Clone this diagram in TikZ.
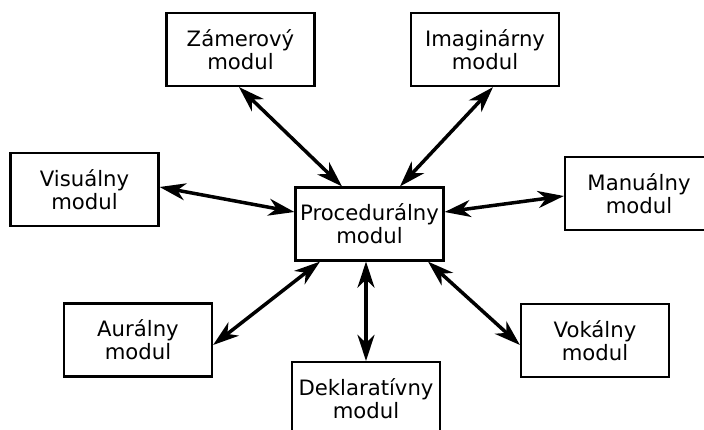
\documentclass[tikz,border=0pt]{standalone}
\usepackage{fontspec}
\setmainfont{DejaVu Sans}
\usetikzlibrary{arrows.meta}
\begin{document}
\begin{tikzpicture}[x=1pt,y=-1pt,
  modbox/.style={draw=black, line width=2.2pt, fill=white, minimum width=148pt,
    minimum height=73pt, inner sep=0pt, align=center,
    font=\fontsize{21.2}{23}\selectfont},
  link/.style={line width=3.5pt,
    {Stealth[length=26pt,width=17pt,inset=8pt]}-{Stealth[length=26pt,width=17pt,inset=8pt]}}]
  \clip (0,0) rectangle (704,430);
  \useasboundingbox (0,0) rectangle (704,430);

  % modules
  \node[modbox] (proc) at (369.5,224) {Procedurálny\\modul};
  \node[modbox] (zam)  at (240.5,49.5) {Zámerový\\modul};
  \node[modbox] (imag) at (485,49.5)   {Imaginárny\\modul};
  \node[modbox] (vis)  at (84.5,189.5) {Visuálny\\modul};
  \node[modbox] (man)  at (639,193.5)  {Manuálny\\modul};
  \node[modbox] (aur)  at (138,340)    {Aurálny\\modul};
  \node[modbox] (vok)  at (595,340.5)  {Vokálny\\modul};
  \node[modbox] (dek)  at (366,398.5)  {Deklaratívny\\modul};

  % two-way links to the procedural module
  \draw[link] ([xshift=-1.5pt]zam.south) -- ([xshift=-27.5pt]proc.north);
  \draw[link] ([xshift=8pt]imag.south)   -- ([xshift=30.5pt]proc.north);
  \draw[link] ([yshift=2.5pt]vis.east)   -- ([yshift=12pt]proc.west);
  \draw[link] ([yshift=-2.5pt]man.west)  -- ([yshift=12pt]proc.east);
  \draw[link] ([yshift=-5pt]aur.east)    -- ([xshift=-49.5pt]proc.south);
  \draw[link] ([yshift=-4.5pt]vok.west)  -- ([xshift=58.5pt]proc.south);
  \draw[link] (dek.north)                -- ([xshift=-3.5pt]proc.south);
\end{tikzpicture}
\end{document}
